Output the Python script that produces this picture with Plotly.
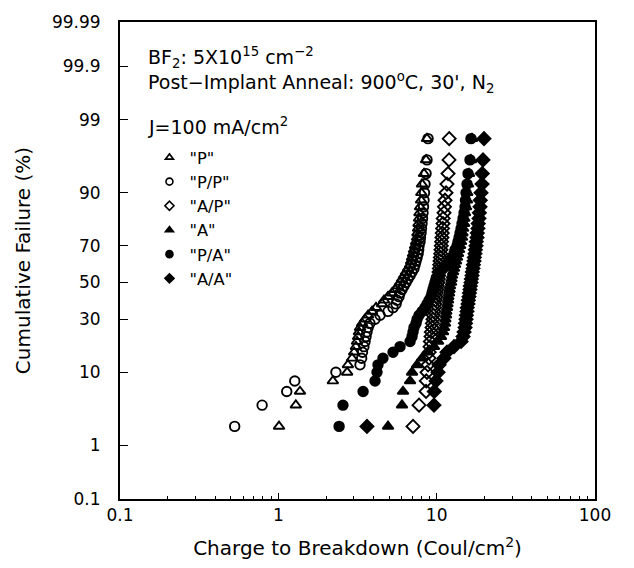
from statistics import NormalDist
import plotly.graph_objects as go

# Cumulative failure (%) plotting positions shared by every lot (49 capacitors each)
failure_pct = [2, 4, 6, 8, 10, 12, 14, 16, 18, 20,
               22, 24, 26, 28, 30, 32, 34, 36, 38, 40,
               42, 44, 46, 48, 50, 52, 54, 56, 58, 60,
               62, 64, 66, 68, 70, 72, 74, 76, 78, 80,
               82, 84, 86, 88, 90, 92, 94, 96, 98]

# Charge to breakdown (Coul/cm^2), sorted, one list per gate stack
qbd_P = [1.01, 1.29, 1.37, 2.21, 2.72, 2.75, 2.92, 3.01, 3.09, 3.14,
         3.19, 3.23, 3.28, 3.38, 3.53, 3.69, 3.91, 4.14, 4.52, 4.65,
         4.93, 5.22, 5.46, 5.70, 5.87, 6.04, 6.22, 6.40, 6.59, 6.79,
         6.89, 6.99, 7.09, 7.19, 7.30, 7.41, 7.52, 7.56, 7.63, 7.68,
         7.74, 7.78, 7.85, 7.97, 8.00, 8.08, 8.32, 8.57, 8.69]
qbd_PP = [0.53, 0.79, 1.13, 1.27, 2.31, 3.28, 3.36, 3.40, 3.47, 3.53,
          3.58, 3.63, 3.69, 3.79, 4.08, 4.39, 4.93, 5.30, 5.54, 5.62,
          5.78, 5.87, 6.04, 6.22, 6.40, 6.59, 6.79, 6.99, 7.19, 7.30,
          7.41, 7.52, 7.63, 7.70, 7.74, 7.85, 7.90, 7.97, 8.02, 8.08,
          8.14, 8.20, 8.26, 8.32, 8.38, 8.44, 8.57, 8.69, 8.82]
qbd_AP = [7.09, 7.74, 8.57, 8.60, 8.69, 8.82, 8.95, 8.98, 9.08, 9.12,
          9.21, 9.25, 9.35, 9.40, 9.48, 9.52, 9.62, 9.68, 9.76, 9.80,
          9.91, 9.95, 10.05, 10.1, 10.2, 10.25, 10.3, 10.35, 10.4, 10.45,
          10.5, 10.55, 10.6, 10.65, 10.7, 10.75, 10.8, 10.85, 10.9, 10.97,
          11.0, 11.13, 11.2, 11.29, 11.46, 11.62, 11.80, 11.97, 12.0]
qbd_A = [4.93, 6.04, 6.13, 6.79, 6.99, 7.52, 8.08, 8.82, 9.62, 10.2,
         10.65, 10.97, 11.13, 11.29, 11.35, 11.46, 11.5, 11.62, 11.7, 11.8,
         11.85, 11.97, 12.05, 12.14, 12.32, 12.4, 12.5, 12.69, 12.87, 13.06,
         13.25, 13.45, 13.64, 13.85, 14.05, 14.26, 14.46, 14.55, 14.68, 14.89,
         14.95, 15.11, 15.33, 15.55, 15.6, 15.78, 16.01, 16.48, 16.72]
qbd_PA = [2.42, 2.56, 3.43, 4.08, 4.20, 4.26, 4.58, 5.30, 5.87, 6.79,
          6.99, 7.09, 7.19, 7.41, 7.52, 7.74, 8.08, 8.44, 8.69, 8.95,
          9.21, 9.35, 9.48, 9.62, 9.76, 9.91, 10.2, 10.5, 10.97, 11.46,
          11.97, 12.5, 12.87, 13.06, 13.45, 13.64, 13.85, 14.05, 14.26, 14.46,
          14.68, 14.89, 15.11, 15.2, 15.33, 15.55, 15.78, 16.24, 16.48]
qbd_AA = [3.63, 9.62, 9.66, 9.91, 10.2, 10.35, 11.13, 11.62, 12.87, 14.26,
          14.68, 14.89, 15.11, 15.2, 15.33, 15.4, 15.55, 15.6, 15.78, 15.85,
          16.01, 16.1, 16.24, 16.3, 16.48, 16.55, 16.72, 16.8, 16.97, 17.05,
          17.21, 17.3, 17.47, 17.55, 17.72, 17.8, 17.98, 18.05, 18.24, 18.3,
          18.51, 18.6, 18.78, 18.85, 19.06, 19.34, 19.4, 19.62, 19.91]

series_names = ['"P"', '"P/P"', '"A/P"', '"A"', '"P/A"', '"A/A"']

# Normal-probability axis ticks
prob_ticks = [0.1, 1, 10, 30, 50, 70, 90, 99, 99.9, 99.99]
prob_tick_text = ["0.1", "1", "10", "30", "50", "70", "90", "99", "99.9", "99.99"]

nd = NormalDist()


def probit(pct):
    return nd.inv_cdf(pct / 100.0)


z_fail = [probit(p) for p in failure_pct]

FONT = "DejaVu Sans"
INK = "black"

symbols = ["triangle-up-open", "circle-open", "diamond-open",
           "triangle-up", "circle", "diamond"]
sizes = [9.5, 9.5, 10, 9.5, 9.5, 10]
data = [qbd_P, qbd_PP, qbd_AP, qbd_A, qbd_PA, qbd_AA]

fig = go.Figure()
for name, xs, sym, sz in zip(series_names, data, symbols, sizes):
    fig.add_trace(go.Scatter(
        x=xs, y=z_fail, mode="markers", name=name, showlegend=False,
        marker=dict(symbol=sym, size=sz, color=INK,
                    line=dict(color=INK, width=1.9)),
    ))

# Legend key entries drawn with smaller symbols than the data points
for name, sym in zip(series_names, symbols):
    fig.add_trace(go.Scatter(
        x=[None], y=[None], mode="markers", name=name, showlegend=True,
        marker=dict(symbol=sym, size=7, color=INK,
                    line=dict(color=INK, width=1.6)),
    ))

fig.update_layout(
    width=634, height=568,
    margin=dict(l=120, r=39, t=15, b=69),
    paper_bgcolor="white", plot_bgcolor="white",
    font=dict(family=FONT, color=INK, size=17),
    showlegend=True,
    legend=dict(
        x=0.062, y=0.752, xanchor="left", yanchor="top",
        bgcolor="rgba(0,0,0,0)", borderwidth=0,
        font=dict(family=FONT, size=16.3, color=INK),
        traceorder="normal", itemwidth=30,
    ),
)

fig.update_xaxes(
    type="log", range=[-1, 2],
    tickmode="array", tickvals=[0.1, 1, 10, 100], ticktext=["0.1", "1", "10", "100"],
    ticks="inside", ticklen=6, tickwidth=1.2, tickcolor=INK,
    minor=dict(ticks="inside", ticklen=3, tickwidth=1, tickcolor=INK,
               tickvals=[m * d for d in (0.1, 1, 10) for m in range(2, 10)],
               showgrid=False),
    showline=True, linewidth=2, linecolor=INK, mirror=True,
    showgrid=False, zeroline=False,
    tickfont=dict(size=17),
    title=dict(text="Charge to Breakdown (Coul/cm<sup>2</sup>)",
               font=dict(size=20), standoff=17),
)
fig.update_yaxes(
    range=[probit(0.1), probit(99.99)],
    tickmode="array", tickvals=[probit(p) for p in prob_ticks], ticktext=prob_tick_text,
    ticks="inside", ticklen=8, tickwidth=1.2, tickcolor=INK,
    ticklabelstandoff=14,
    showline=True, linewidth=2, linecolor=INK, mirror=True,
    showgrid=False, zeroline=False,
    tickfont=dict(size=17),
    title=dict(text="Cumulative Failure (%)", font=dict(size=20), standoff=16),
)

# Process conditions: implant / anneal block, then stress current density
fig.add_annotation(
    text=("BF<sub>2</sub>: 5X10<sup>15</sup> cm<sup>−2</sup><br>"
          "Post−Implant Anneal: 900<sup>o</sup>C, 30', N<sub>2</sub>"),
    xref="paper", yref="paper", x=0.055, y=0.9,
    xanchor="left", yanchor="middle", align="left", showarrow=False,
    font=dict(family=FONT, size=19, color=INK),
)
fig.add_annotation(
    text="J=100 mA/cm<sup>2</sup>",
    xref="paper", yref="paper", x=0.055, y=0.783,
    xanchor="left", yanchor="middle", showarrow=False,
    font=dict(family=FONT, size=19, color=INK),
)

fig.write_html("out.html")
